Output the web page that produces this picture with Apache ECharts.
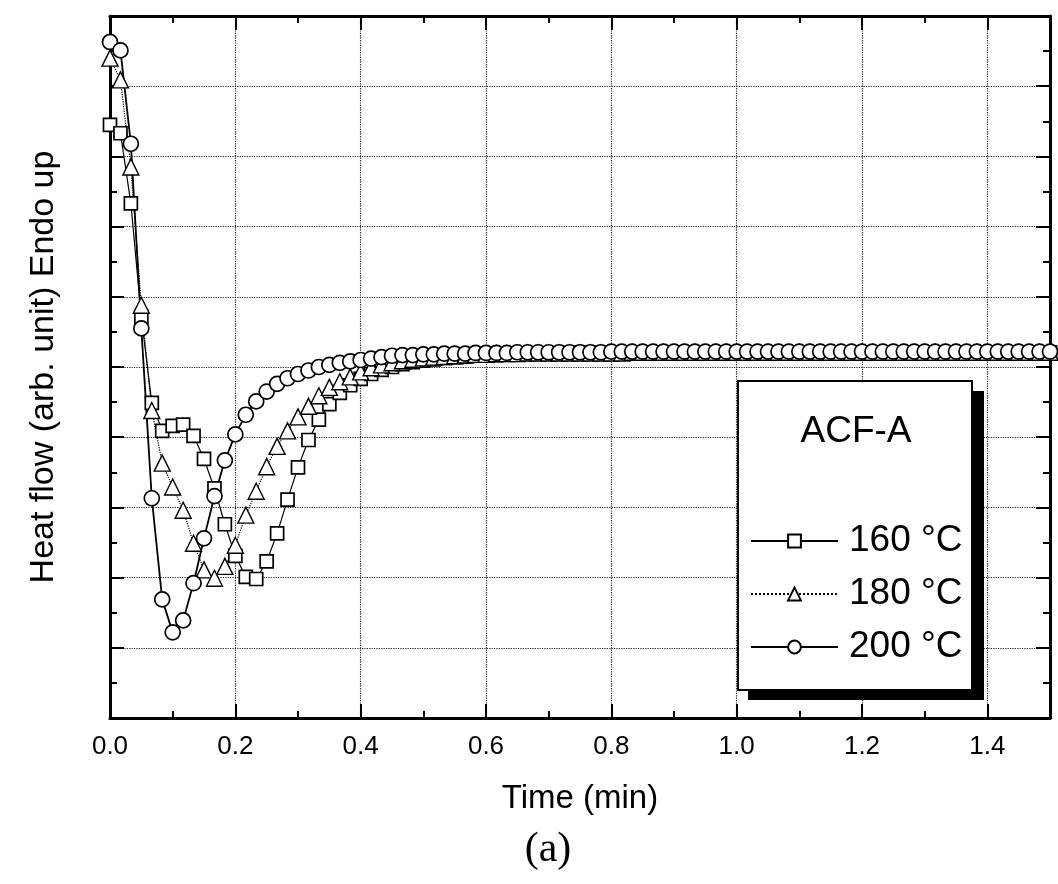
<!doctype html>
<html>
<head>
<meta charset="UTF-8">
<title>ACF-A heat flow</title>
<script src="https://cdn.jsdelivr.net/npm/echarts@6/dist/echarts.min.js"></script>
<style>
  html, body { margin: 0; padding: 0; background: #fff; }
  #main { width: 1058px; height: 884px; }
</style>
</head>
<body>
<div id="main"></div>
<script type="text/javascript">
// sample times (min), one point per second
var time = [0, 0.0167, 0.0333, 0.05, 0.0667, 0.0833, 0.1, 0.1167, 0.1333, 0.15,
  0.1667, 0.1833, 0.2, 0.2167, 0.2333, 0.25, 0.2667, 0.2833, 0.3, 0.3167,
  0.3333, 0.35, 0.3667, 0.3833, 0.4, 0.4167, 0.4333, 0.45, 0.4667, 0.4833,
  0.5, 0.5167, 0.5333, 0.55, 0.5667, 0.5833, 0.6, 0.6167, 0.6333, 0.65,
  0.6667, 0.6833, 0.7, 0.7167, 0.7333, 0.75, 0.7667, 0.7833, 0.8, 0.8167,
  0.8333, 0.85, 0.8667, 0.8833, 0.9, 0.9167, 0.9333, 0.95, 0.9667, 0.9833,
  1.0, 1.0167, 1.0333, 1.05, 1.0667, 1.0833, 1.1, 1.1167, 1.1333, 1.15,
  1.1667, 1.1833, 1.2, 1.2167, 1.2333, 1.25, 1.2667, 1.2833, 1.3, 1.3167,
  1.3333, 1.35, 1.3667, 1.3833, 1.4, 1.4167, 1.4333, 1.45, 1.4667, 1.4833, 1.5];

// heat flow (arb. unit)
var heat160 = [8.45, 8.33, 7.33, 5.71, 4.49, 4.09, 4.16, 4.18, 4.02, 3.69,
  3.27, 2.76, 2.31, 2.01, 1.98, 2.23, 2.63, 3.11, 3.57, 3.96,
  4.25, 4.47, 4.63, 4.74, 4.83, 4.90, 4.96, 5.00, 5.04, 5.07,
  5.09, 5.11, 5.13, 5.14, 5.15, 5.16, 5.17, 5.17, 5.18, 5.18,
  5.19, 5.19, 5.19, 5.19, 5.20, 5.20, 5.20, 5.20, 5.20, 5.20,
  5.21, 5.21, 5.21, 5.21, 5.21, 5.21, 5.21, 5.21, 5.21, 5.21,
  5.21, 5.21, 5.21, 5.21, 5.21, 5.21, 5.21, 5.21, 5.21, 5.21,
  5.21, 5.21, 5.21, 5.21, 5.21, 5.21, 5.21, 5.21, 5.21, 5.21,
  5.21, 5.21, 5.21, 5.21, 5.21, 5.21, 5.21, 5.21, 5.21, 5.21, 5.21];

var heat180 = [9.40, 9.09, 7.85, 5.88, 4.38, 3.63, 3.29, 2.96, 2.49, 2.11,
  1.99, 2.16, 2.46, 2.89, 3.23, 3.58, 3.87, 4.09, 4.29, 4.44,
  4.59, 4.71, 4.79, 4.86, 4.93, 4.99, 5.03, 5.06, 5.09, 5.11,
  5.13, 5.14, 5.15, 5.16, 5.17, 5.18, 5.18, 5.19, 5.19, 5.19,
  5.20, 5.20, 5.20, 5.20, 5.20, 5.20, 5.20, 5.20, 5.20, 5.20,
  5.21, 5.21, 5.21, 5.21, 5.21, 5.21, 5.21, 5.21, 5.21, 5.21,
  5.21, 5.21, 5.21, 5.21, 5.21, 5.21, 5.21, 5.21, 5.21, 5.21,
  5.21, 5.21, 5.21, 5.21, 5.21, 5.21, 5.21, 5.21, 5.21, 5.21,
  5.21, 5.21, 5.21, 5.21, 5.21, 5.21, 5.21, 5.21, 5.21, 5.21, 5.21];

var heat200 = [9.63, 9.51, 8.18, 5.55, 3.13, 1.69, 1.22, 1.39, 1.92, 2.56,
  3.16, 3.67, 4.04, 4.32, 4.51, 4.65, 4.76, 4.84, 4.90, 4.95,
  5.00, 5.03, 5.06, 5.08, 5.10, 5.12, 5.14, 5.16, 5.17, 5.17,
  5.18, 5.18, 5.19, 5.19, 5.19, 5.20, 5.20, 5.20, 5.20, 5.21,
  5.21, 5.21, 5.21, 5.21, 5.21, 5.21, 5.21, 5.21, 5.22, 5.22,
  5.22, 5.22, 5.22, 5.22, 5.22, 5.22, 5.22, 5.22, 5.22, 5.22,
  5.22, 5.22, 5.22, 5.22, 5.22, 5.22, 5.22, 5.22, 5.22, 5.22,
  5.22, 5.22, 5.22, 5.22, 5.22, 5.22, 5.22, 5.22, 5.22, 5.22,
  5.22, 5.22, 5.22, 5.22, 5.22, 5.22, 5.22, 5.22, 5.22, 5.22, 5.22];

var seriesNames = ['160 °C', '180 °C', '200 °C'];
var sampleName = 'ACF-A';

var FONT = '"Liberation Sans", Arial, sans-serif';

function pairs(ys) {
    var out = [];
    for (var i = 0; i < ys.length; i++) out.push([time[i], ys[i]]);
    return out;
}

// axis with inward ticks, used for all four sides of the frame
function frameAxis(pos, isX) {
    return {
        type: 'value',
        position: pos,
        min: 0,
        max: isX ? 1.5 : 10,
        interval: isX ? 0.2 : 1,
        axisLine: { show: true, onZero: false, lineStyle: { color: '#000', width: 3 } },
        axisTick: { show: true, inside: true, length: 14, lineStyle: { color: '#000', width: 2 } },
        minorTick: { show: true, splitNumber: 2, length: 7, lineStyle: { color: '#000', width: 2 } },
        axisLabel: { show: false },
        splitLine: { show: false }
    };
}

var myChart = echarts.init(document.getElementById('main'));

var xBottom = frameAxis('bottom', true);
xBottom.axisLabel = {
    show: true, margin: 16, fontSize: 26, color: '#000', fontFamily: FONT,
    showMaxLabel: false,
    formatter: function (v) { return v.toFixed(1); }
};
xBottom.splitLine = { show: true, lineStyle: { type: 'dotted', color: '#222', width: 1.2 } };
xBottom.name = 'Time (min)';
xBottom.nameLocation = 'middle';
xBottom.nameGap = 64;
xBottom.nameTextStyle = { fontSize: 33, color: '#000', fontFamily: FONT };

var yLeft = frameAxis('left', false);
yLeft.splitLine = { show: true, lineStyle: { type: 'dotted', color: '#222', width: 1.2 } };
yLeft.name = 'Heat flow (arb. unit) Endo up';
yLeft.nameLocation = 'middle';
yLeft.nameGap = 49;
yLeft.nameTextStyle = { fontSize: 34, color: '#000', fontFamily: FONT };

var option = {
    animation: false,
    backgroundColor: '#fff',
    grid: { left: 110, top: 16, width: 940, height: 702, containLabel: false },
    // legend frame with a hard drop shadow
    graphic: [
        { type: 'rect', z: 3, shape: { x: 748, y: 391, width: 236, height: 309 },
          style: { fill: '#000' } },
        { type: 'rect', z: 3, shape: { x: 738, y: 381, width: 234, height: 309 },
          style: { fill: '#fff', stroke: '#000', lineWidth: 2 } }
    ],
    title: [
        { text: sampleName, left: 856, top: 413, textAlign: 'center', padding: 0, z: 6,
          textStyle: { fontSize: 37, fontWeight: 'normal', color: '#000', fontFamily: FONT } },
        { text: '(a)', left: 548, top: 829, textAlign: 'center', padding: 0,
          textStyle: { fontSize: 42, fontWeight: 'normal', color: '#000',
                       fontFamily: '"Liberation Serif", "Times New Roman", serif' } }
    ],
    legend: {
        data: seriesNames,
        orient: 'vertical',
        left: 738,
        top: 381,
        padding: [140, 12, 22, 12],
        itemWidth: 87,
        itemHeight: 16,
        itemGap: 13,
        z: 6,
        selectedMode: false,
        textStyle: { fontSize: 37, color: '#000', fontFamily: FONT, lineHeight: 40, padding: [0, 0, 0, 6] }
    },
    xAxis: [xBottom, frameAxis('top', true)],
    yAxis: [yLeft, frameAxis('right', false)],
    series: [
        {
            name: seriesNames[0], type: 'line', data: pairs(heat160),
            symbol: 'rect', symbolSize: 13,
            itemStyle: { color: '#fff', borderColor: '#000', borderWidth: 1.7 },
            lineStyle: { color: '#000', width: 1.2, type: 'solid' }
        },
        {
            name: seriesNames[1], type: 'line', data: pairs(heat180),
            symbol: 'triangle', symbolSize: 16,
            itemStyle: { color: '#fff', borderColor: '#000', borderWidth: 1.4 },
            lineStyle: { color: '#000', width: 1.2, type: 'dotted' }
        },
        {
            name: seriesNames[2], type: 'line', data: pairs(heat200),
            symbol: 'circle', symbolSize: 15,
            itemStyle: { color: '#fff', borderColor: '#000', borderWidth: 1.7 },
            lineStyle: { color: '#000', width: 1.8, type: 'solid' }
        }
    ]
};

myChart.setOption(option);
</script>
</body>
</html>
